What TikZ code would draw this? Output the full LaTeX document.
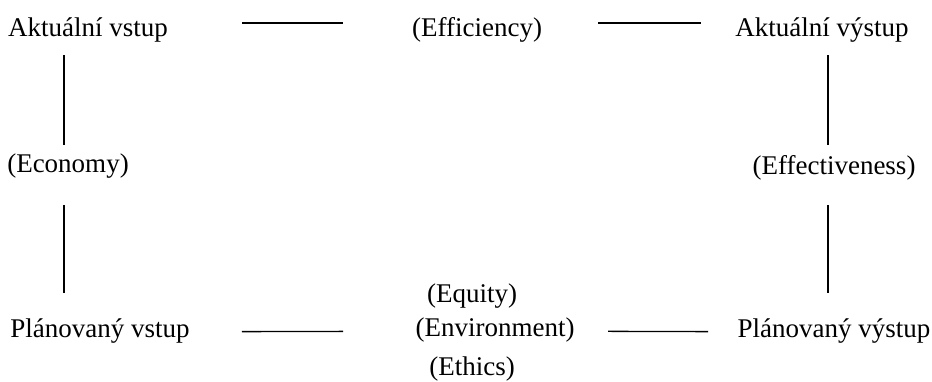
\documentclass[tikz,border=0pt]{standalone}
\usepackage{fontspec}
\setmainfont{Liberation Serif}
\usepackage{tikz}

\begin{document}
\begin{tikzpicture}[
    x=1pt, y=-1pt,
    lbl/.style={anchor=base, inner sep=0pt, font=\fontsize{27}{32}\selectfont},
    link/.style={line width=1.3pt}
  ]
  \useasboundingbox (0,0) rectangle (932,381);

  % corners of the square
  \node[lbl] (avstup)  at (88,36)   {Aktuální vstup};
  \node[lbl] (avystup) at (822,36)  {Aktuální výstup};
  \node[lbl] (pvstup)  at (100,337) {Plánovaný vstup};
  \node[lbl] (pvystup) at (834,337) {Plánovaný výstup};

  % the E's on the sides
  \node[lbl] (eff)    at (477,36)  {(Efficiency)};
  \node[lbl] (econ)   at (68,172)  {(Economy)};
  \node[lbl] (effect) at (834,174) {(Effectiveness)};
  \node[lbl] (equity) at (472,302) {(Equity)};
  \node[lbl] (env)    at (495,336) {(Environment)};
  \node[lbl] (ethics) at (472,375) {(Ethics)};

  % top row
  \draw[link, shorten <=154pt, shorten >=134pt]
    ([yshift=13pt]avstup.base) -- ([yshift=13pt]eff.base);
  \draw[link, shorten <=121pt, shorten >=121pt]
    ([yshift=13pt]eff.base) -- ([yshift=13pt]avystup.base);

  % left column
  \draw[link, shorten <=19pt, shorten >=27pt]
    ([xshift=-24pt]avstup.base) -- ([xshift=-4pt]econ.base);
  \draw[link, shorten <=33pt, shorten >=44pt]
    ([xshift=-4pt]econ.base) -- ([xshift=-36pt]pvstup.base);

  % right column
  \draw[link, shorten <=19pt, shorten >=29pt]
    ([xshift=6pt]avystup.base) -- ([xshift=-6pt]effect.base);
  \draw[link, shorten <=31pt, shorten >=44pt]
    ([xshift=-6pt]effect.base) -- ([xshift=-6pt]pvystup.base);

  % bottom row
  \draw[link, shorten <=142pt, shorten >=152pt]
    ([yshift=5pt]pvstup.base) -- ([yshift=5pt]env.base);
  \draw[link, shorten <=113pt, shorten >=126pt]
    ([yshift=5pt]env.base) -- ([yshift=5pt]pvystup.base);
\end{tikzpicture}
\end{document}
